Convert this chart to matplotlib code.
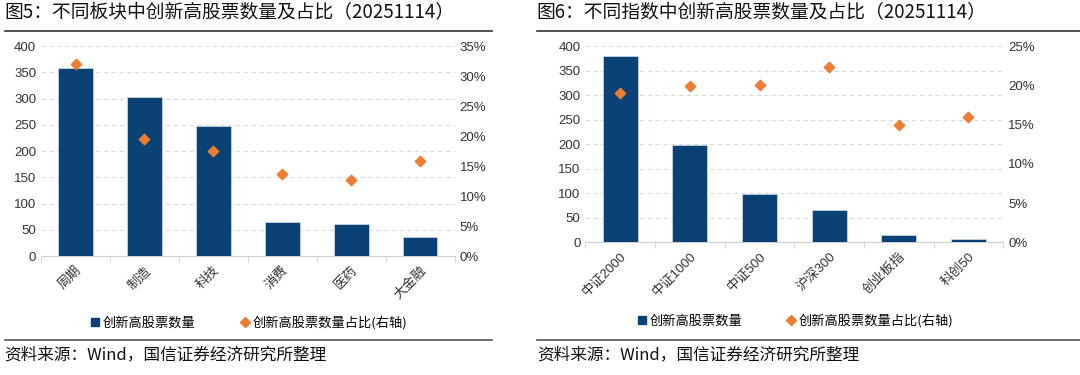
import matplotlib
matplotlib.use('Agg')
import matplotlib.pyplot as plt
import numpy as np
from matplotlib.lines import Line2D

plt.rcParams['font.family'] = ['Liberation Sans', 'Noto Sans CJK SC', 'DejaVu Sans']

sectors = ['周期', '制造', '科技', '消费', '医药', '大金融']
sector_cnt = [358, 304, 247, 65, 62, 36]
sector_pct = [32.0, 19.5, 17.5, 13.7, 12.7, 15.9]

indices = ['中证2000', '中证1000', '中证500', '沪深300', '创业板指', '科创50']
index_cnt = [380, 198, 99, 66, 14, 7]
index_pct = [19.0, 19.9, 20.0, 22.3, 15.0, 16.0]

title_l = '图5：不同板块中创新高股票数量及占比（20251114）'
title_r = '图6：不同指数中创新高股票数量及占比（20251114）'
source = '资料来源：Wind，国信证券经济研究所整理'
lab_bar = '创新高股票数量'
lab_pct = '创新高股票数量占比(右轴)'

navy = '#0A4275'
orange = '#ED7D31'
tick_c = '#333333'
cjk = ['Noto Sans CJK SC', 'DejaVu Sans']

fig = plt.figure(figsize=(10.8, 3.75), dpi=100)


def panel(rect, cats, cnt, pct, pmax, pstep, title, tx, line_x, leg_y):
    ax = fig.add_axes(rect)
    x = np.arange(len(cats))
    ax.bar(x, cnt, width=0.5, color=navy, edgecolor='#c8d4e0', linewidth=0.6, zorder=3)
    ax.set_ylim(0, 400)
    ax.set_yticks(np.arange(0, 401, 50))
    ax.set_xlim(-0.5, len(cats) - 0.5)
    ax.yaxis.grid(True, linestyle=(0, (4, 3)), color='#d9d9d9', linewidth=0.8)
    ax.set_axisbelow(True)
    for s in ['top', 'left', 'right']:
        ax.spines[s].set_visible(False)
    ax.spines['bottom'].set_color('#d0d0d0')
    ax.tick_params(axis='y', length=0, labelsize=9.5, colors=tick_c)
    ax.set_xticks(x)
    ax.set_xticklabels(cats, rotation=45, ha='right', rotation_mode='anchor',
                       fontsize=9.5, color=tick_c)
    ax.tick_params(axis='x', length=0, pad=6)
    ax.set_xticks(np.arange(-0.5, len(cats)), minor=True)
    ax.tick_params(axis='x', which='minor', length=4, color='#d0d0d0')

    ax2 = ax.twinx()
    ax2.scatter(x, pct, marker='D', s=28, color=orange, zorder=4)
    ax2.set_ylim(0, pmax)
    ax2.set_yticks(np.arange(0, pmax + 0.01, pstep))
    ax2.set_yticklabels(['%d%%' % v for v in np.arange(0, pmax + 0.01, pstep)])
    ax2.tick_params(axis='y', length=0, labelsize=9.5, colors=tick_c)
    for s in ['top', 'left', 'right', 'bottom']:
        ax2.spines[s].set_visible(False)

    fig.text(tx, 0.965, title, fontsize=13.5, va='center', ha='left',
             family=cjk, color='#111111')
    fig.add_artist(Line2D(line_x, [0.918, 0.918], color='#333333', linewidth=1.2))
    fig.add_artist(Line2D(line_x, [0.093, 0.093], color='#555555', linewidth=1.2))
    fig.text(tx, 0.053, source, fontsize=12, va='center', ha='left',
             family=cjk, color='#111111')

    h1 = Line2D([], [], marker='s', linestyle='none', color=navy, markersize=5.5)
    h2 = Line2D([], [], marker='D', linestyle='none', color=orange, markersize=5)
    cx = rect[0] + rect[2] / 2
    fig.legend([h1, h2], [lab_bar, lab_pct], loc='center', ncol=2,
               bbox_to_anchor=(cx, leg_y), frameon=False,
               handletextpad=0.1, columnspacing=3.2, handlelength=1.0,
               prop={'family': cjk, 'size': 9.5})
    return ax


panel([0.038, 0.317, 0.383, 0.560], sectors, sector_cnt, sector_pct, 35, 5,
      title_l, 0.004, [0.005, 0.456], 0.139)
panel([0.542, 0.354, 0.387, 0.523], indices, index_cnt, index_pct, 25, 5,
      title_r, 0.497, [0.497, 1.0], 0.145)

fig.savefig('out.png', dpi=100)
